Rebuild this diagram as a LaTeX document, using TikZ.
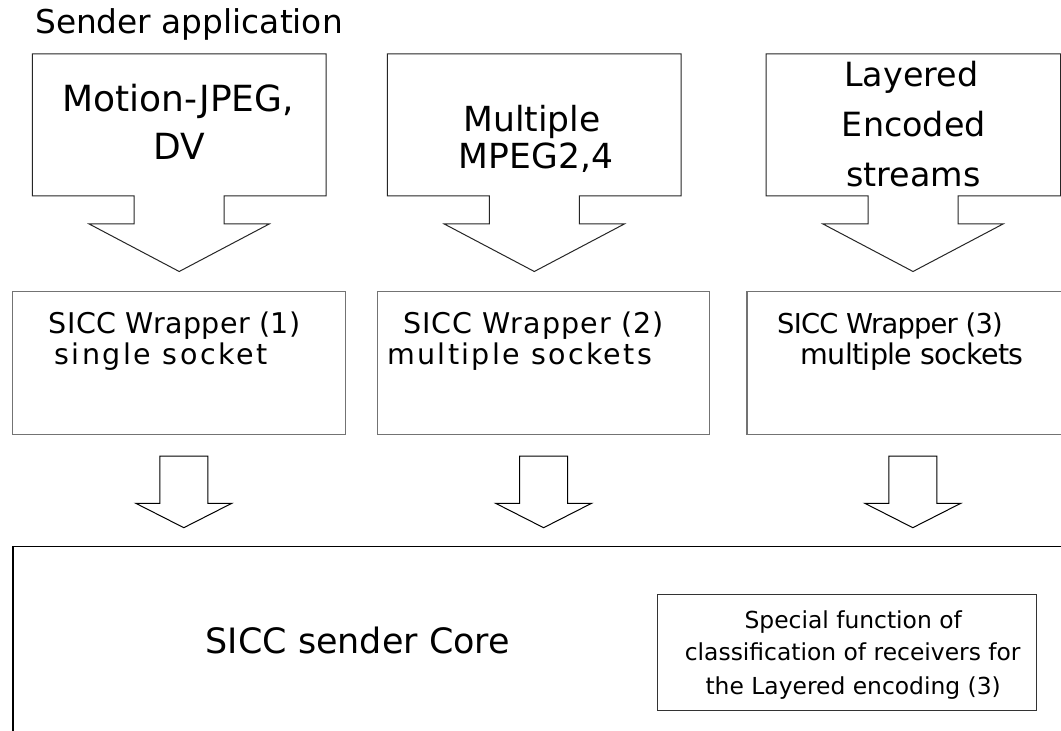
\documentclass[tikz,border=0pt]{standalone}
\usepackage{fontspec}
\setmainfont{DejaVu Sans}
\newcommand\fs[1]{\fontsize{#1}{#1}\selectfont}
\newcommand\drawcallout[3]{%
  \draw[calloutline] (#1,54) -- (#2,54) -- (#2,196) -- ({#3+45},196) -- ({#3+45},224)
    -- ({#3+90},224) -- (#3,271.5) -- ({#3-90},224) -- ({#3-45},224) -- ({#3-45},196)
    -- (#1,196) -- cycle;}
\newcommand\drawblockarrow[1]{%
  \draw[blockarrow] ({#1-24},456) -- ({#1+24},456) -- ({#1+24},503.3) -- ({#1+48},503.3)
    -- (#1,527.7) -- ({#1-48},503.3) -- ({#1-24},503.3) -- cycle;}
\begin{document}
\begin{tikzpicture}[x=0.75pt,y=-0.75pt,
  calloutline/.style={draw=black!85,line width=0.75pt,line join=miter},
  blockarrow/.style={draw=black,line width=0.75pt,line join=miter},
  wrapbox/.style={draw=black!55,line width=0.9pt},
  corebox/.style={draw=black,line width=1.1pt},
  specbox/.style={draw=black!80,line width=0.75pt},
  txt/.style={anchor=base,inner sep=0pt,text=black}]
\fill[white] (0,0) rectangle (1061,731);
\clip (0,0) rectangle (1061,731);

% title
\node[txt,font=\fs{24.6pt}] (title) at (189,33.5) {Sender application};

% callouts
\drawcallout{32.3}{326}{179.2}
\drawcallout{387.3}{681}{534.3}
\drawcallout{766}{1060.6}{913}
\node[txt,font=\fs{27pt}] (c1a) at (178.3,111.7) {Motion-JPEG,};
\node[txt,font=\fs{27pt}] (c1b) at (179,160) {DV};
\node[txt,font=\fs{25.9pt}] (c2a) at (532,131.7) {Multiple};
\node[txt,font=\fs{25.9pt}] (c2b) at (535.9,168.3) {MPEG2,4};
\node[txt,font=\fs{25pt}] (c3a) at (911.3,86.7) {Layered};
\node[txt,font=\fs{25pt}] (c3b) at (913.8,136.7) {Encoded};
\node[txt,font=\fs{25pt}] (c3c) at (913.3,186.7) {streams};

% wrapper boxes
\draw[wrapbox] (12.8,291.2) rectangle (345.2,434.8);
\draw[wrapbox] (377.6,291.2) rectangle (709.5,434.8);
\draw[wrapbox] (747,291.2) rectangle (1090,434.8);
\node[txt,font={\fs{21.4pt}\addfontfeatures{LetterSpace=1.4}}] (w1a) at (174.6,334) {SICC Wrapper (1)};
\node[txt,font={\fs{21.4pt}\addfontfeatures{LetterSpace=8.7}}] (w1b) at (161,364.5) {single socket};
\node[txt,font={\fs{21.4pt}\addfontfeatures{LetterSpace=3.8}}] (w2a) at (533.5,334) {SICC Wrapper (2)};
\node[txt,font={\fs{21.4pt}\addfontfeatures{LetterSpace=8}}] (w2b) at (519.7,364.5) {multiple sockets};
\node[txt,font={\fs{20.5pt}\addfontfeatures{LetterSpace=-3}}] (w3a) at (890,334) {SICC Wrapper (3)};
\node[txt,font={\fs{21.4pt}\addfontfeatures{LetterSpace=-2.5}}] (w3b) at (912,364.5) {multiple sockets};

% block arrows
\drawblockarrow{183.8}
\drawblockarrow{543.6}
\drawblockarrow{912.8}

% core
\draw[corebox] (12.8,546.4) rectangle (1100,800);
\node[txt,font=\fs{26.2pt}] (core) at (357.8,653.5) {SICC sender Core};

% special function box
\draw[specbox] (657.5,594.5) rectangle (1036.5,710);
\node[txt,font=\fs{17.55pt}] (s1) at (853.2,628.5) {Special function of};
\node[txt,font=\fs{17.55pt}] (s2) at (852.7,660.7) {classification of receivers for};
\node[txt,font=\fs{17.55pt}] (s3) at (853.2,694.6) {the Layered encoding (3)};
\end{tikzpicture}
\end{document}
